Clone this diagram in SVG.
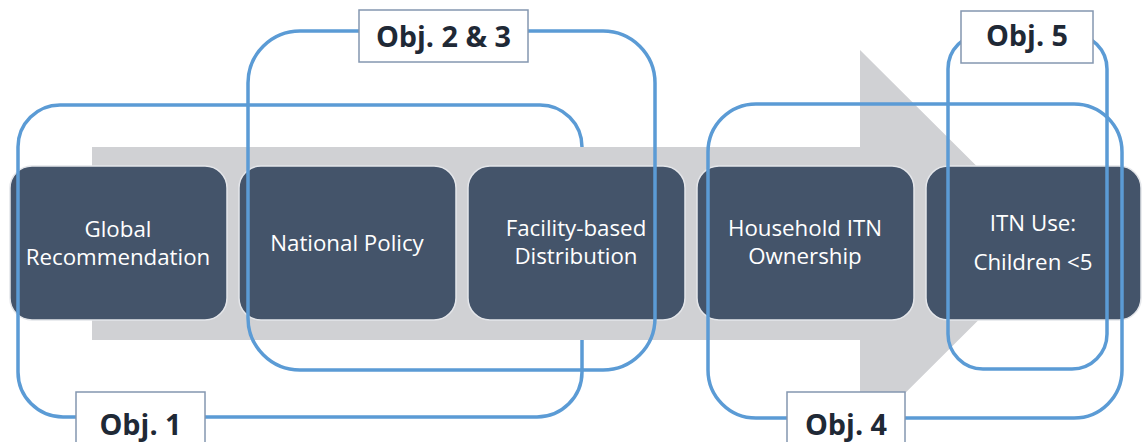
<svg xmlns="http://www.w3.org/2000/svg" width="1142" height="442" viewBox="0 0 1142 442">
<style>
.box{fill:#44546A;stroke:#E4E6EA;stroke-width:1.5}
.nt{font-family:"Open Sans","Liberation Sans",sans-serif;font-size:22.3px;fill:#FFFFFF;text-anchor:middle}
.obj{fill:none;stroke:#5B9BD5;stroke-width:3.5}
.lab{fill:#FFFFFF;stroke:#8497B0;stroke-width:1.5}
.lt{font-family:"Open Sans","Liberation Sans",sans-serif;font-weight:bold;font-size:28.8px;fill:#1F2936;text-anchor:middle}
</style>
<rect width="1142" height="442" fill="#FFFFFF"/>
<polygon id="arrow" points="92,147 860,147 860,50 1055,244 860,438 860,340 92,340" fill="#D0D1D4"/>
<g id="n1"><rect class="box" x="10" y="166" width="217" height="154" rx="22"/><text class="nt" x="118" y="237">Global</text><text class="nt" x="118" y="265">Recommendation</text></g>
<g id="n2"><rect class="box" x="239" y="166" width="217" height="154" rx="22"/><text class="nt" x="347" y="251">National Policy</text></g>
<g id="n3"><rect class="box" x="468" y="166" width="217" height="154" rx="22"/><text class="nt" x="576" y="236">Facility-based</text><text class="nt" x="576" y="264">Distribution</text></g>
<g id="n4"><rect class="box" x="697" y="166" width="217" height="154" rx="22"/><text class="nt" x="805" y="236">Household ITN</text><text class="nt" x="805" y="264">Ownership</text></g>
<g id="n5"><rect class="box" x="926" y="166" width="215" height="154" rx="22"/><text class="nt" x="1033" y="231">ITN Use:</text><text class="nt" x="1033" y="270">Children &lt;5</text></g>
<g id="connectors">
<path id="obj1" class="obj" d="M582,147 A42,42 0 0 0 540,105 L60,105 A42,42 0 0 0 18,147 L18,372 A45,45 0 0 0 63,417 L537,417 A45,45 0 0 0 582,372 L582,340"/>
<rect id="obj23" class="obj" x="248" y="31" width="407" height="339" rx="52"/>
<rect id="obj4" class="obj" x="708" y="104" width="414" height="314" rx="48"/>
<rect id="obj5" class="obj" x="948" y="34" width="159" height="335" rx="35"/>
</g>
<g id="l1"><rect class="lab" x="76" y="392" width="129" height="56"/><text class="lt" x="140.5" y="435">Obj. 1</text></g>
<g id="l23"><rect class="lab" x="359" y="10" width="169" height="52"/><text class="lt" x="443.5" y="47">Obj. 2 &amp; 3</text></g>
<g id="l4"><rect class="lab" x="787" y="392" width="118" height="56"/><text class="lt" x="846" y="435">Obj. 4</text></g>
<g id="l5"><rect class="lab" x="961" y="11" width="132" height="52"/><text class="lt" x="1027" y="46">Obj. 5</text></g>
</svg>
